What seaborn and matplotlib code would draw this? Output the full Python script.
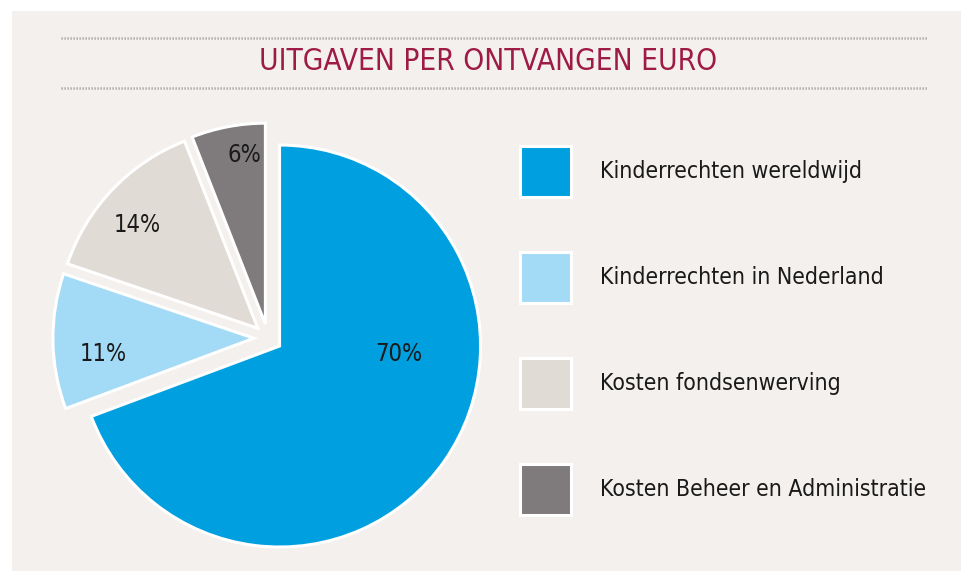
import matplotlib
matplotlib.use("Agg")
import matplotlib.pyplot as plt
import seaborn as sns
from matplotlib.patches import Rectangle
from matplotlib.lines import Line2D

# data
categories = ["Kinderrechten wereldwijd", "Kinderrechten in Nederland",
              "Kosten fondsenwerving", "Kosten Beheer en Administratie"]
percentages = [70, 11, 14, 6]
colors = ["#009fe0", "#a3daf6", "#e1dbd5", "#7f7b7c"]

# where the % labels sit (in pie radius units)
label_pos = [(0.65, -0.08), (-0.82, -0.08), (-0.65, 0.56), (-0.12, 0.91)]

sns.set_theme(style="white")
plt.rcParams["font.family"] = ["DejaVu Sans"]
plt.rcParams["font.stretch"] = "condensed"

W, H = 961, 571
fig = plt.figure(figsize=(W / 100, H / 100), dpi=100, facecolor="white")

# beige panel
fig.patches.append(Rectangle((12 / W, 0), 1, 1 - 11 / H, transform=fig.transFigure,
                             facecolor="#f3f0ed", edgecolor="none", zorder=-5))

# dotted rules around the title
for y in (38, 88):
    fig.add_artist(Line2D([61 / W, 927 / W], [1 - y / H, 1 - y / H],
                          transform=fig.transFigure, color="#a3a09e",
                          linewidth=1.8, linestyle=(0, (0.5, 0.7))))

fig.text(488 / W, 1 - 62 / H, "UITGAVEN PER ONTVANGEN EURO", ha="center", va="center",
         fontsize=21.3, color="#9e1a47")

# pie axes: center at (268, 338) px, radius 201 px
cx, cy, r = 268, 338, 201
lim = 1.3
side = 2 * lim * r
ax = fig.add_axes([(cx - side / 2) / W, (H - cy - side / 2) / H, side / W, side / H])
ax.set_facecolor("none")

wedges, _ = ax.pie(percentages, colors=colors, startangle=90, counterclock=False,
                   explode=[0.07] * len(percentages),
                   wedgeprops=dict(edgecolor="white", linewidth=2.2))
ax.set_xlim(-lim, lim)
ax.set_ylim(-lim, lim)
ax.set_aspect("equal")
ax.axis("off")

for (x, y), p in zip(label_pos, percentages):
    ax.text(x, y, f"{p}%", ha="center", va="center", fontsize=17, color="#1a1a1a")

# legend
leg = fig.legend(wedges, categories, loc="upper left",
                 bbox_to_anchor=(520 / W, 1 - 146 / H), frameon=False,
                 fontsize=16.5, handlelength=2.22, handleheight=3.05,
                 labelspacing=2.4, handletextpad=1.26, borderpad=0, borderaxespad=0)
for t in leg.get_texts():
    t.set_color("#1a1a1a")

fig.savefig("out.png", dpi=100, facecolor="white")
